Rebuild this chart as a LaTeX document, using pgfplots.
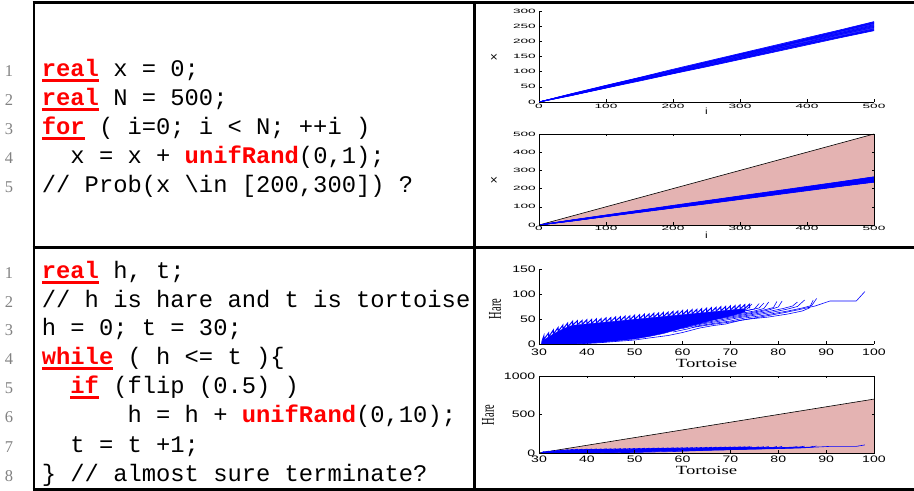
\documentclass[border=0pt]{standalone}
\usepackage{pgfplots}
\pgfplotsset{compat=1.18}
\usepackage{pgfplotstable}
\usepackage{fontspec}
\setmainfont{Liberation Serif}
\setsansfont{Liberation Sans}
\newfontfamily\codefont{Liberation Mono}
\newfontfamily\smallsans[FakeStretch=2.2]{Liberation Sans}
\newfontfamily\midsans[FakeStretch=1.5]{Liberation Sans}
\newfontfamily\labserif[FakeStretch=1.5]{Liberation Serif}
\newfontfamily\hareserif[FakeStretch=0.58]{Liberation Serif}
\newfontfamily\labsans[FakeStretch=1.3]{Liberation Sans}
\definecolor{kred}{RGB}{255,0,0}
\definecolor{fillpink}{RGB}{228,179,178}
\definecolor{lngray}{RGB}{130,130,130}
\definecolor{pblue}{RGB}{0,0,255}
\newcommand\kw[1]{{\color{kred}\bfseries\setbox0\hbox{#1}\rlap{\rule[-4.6bp]{\wd0}{2.6bp}}\box0}}
\newcommand\fn[1]{{\color{kred}\bfseries #1}}

\pgfplotstableread{
i L1 L2 L3 L4 L5 L6 L7 L8 L9 L10 L11 L12
0 0 0 0 0 0 0 0 0 0 0 0 0
50 28 22 27 23 26 24 27 23 25 26 28 22
100 55 46 52 47 53 49 51 46 51 49 54 48
150 81 69 79 73 77 72 78 72 74 75 80 71
200 108 93 103 96 104 98 105 95 100 98 104 94
250 134 116 130 120 131 124 129 118 127 124 131 120
300 160 140 156 146 154 147 157 142 151 150 158 143
350 186 164 180 169 178 173 183 169 177 174 182 166
400 212 188 207 193 205 196 206 191 203 198 209 192
450 238 212 233 217 229 222 234 215 226 225 236 214
500 265 235 259 241 255 246 261 238 252 249 263 237
}\walktab

\newcommand\walkplots[1]{%
  \addplot[fill=#1, draw=none] coordinates {(0,0) (50,28) (100,55) (150,81) (200,108) (250,134) (300,160) (350,186) (400,212) (450,238) (500,265) (500,235) (450,212) (400,188) (350,164) (300,140) (250,116) (200,93) (150,69) (100,46) (50,22) (0,0)};
  \pgfplotsinvokeforeach{1,...,12}{\addplot[pblue, line width=0.6bp] table[x=i,y=L##1]{\walktab};}
}

\newcommand\hareplots{%
  \addplot[fill=pblue, draw=pblue, line width=0.4bp] coordinates {(30.5,0) (30.6,5) (31,8) (32,14) (33,20) (34,25) (35,30) (36,34) (37,37.3) (38,38.2) (40,40.1) (42,41.9) (44,43.8) (46,45.6) (48,47.5) (50,49.4) (52,51.2) (54,53.1) (56,54.9) (58,56.8) (60,58.7) (62,60.5) (64,62.4) (66,64.2) (68,66.1) (70,68) (72,69.8) (73,70.7) (73,64) (70,56) (66,47) (62,37) (59,29) (56,21) (53,15) (50,10) (46,6) (42,2.5) (38,0.5) (34,0) (30.5,0)};
  \addplot[pblue, line width=1bp] coordinates {(30.6,5) (31,16) (31,9) (32,22) (32,14) (33,28) (33,20) (34,33) (34,25) (35,38) (35,30) (36,42) (36,34) (37,45.3) (37,37.3) (38,46.5) (38,38.2) (39,47.1) (39,39.1) (40,48.4) (40,40.1) (41,49.0) (41,41.0) (42,50.2) (42,41.9) (43,50.9) (43,42.9) (44,52.1) (44,43.8) (45,52.7) (45,44.7) (46,53.9) (46,45.6) (47,54.6) (47,46.6) (48,55.8) (48,47.5) (49,56.4) (49,48.4) (50,57.7) (50,49.4) (51,58.3) (51,50.3) (52,59.5) (52,51.2) (53,60.1) (53,52.1) (54,61.4) (54,53.1) (55,62.0) (55,54.0) (56,63.2) (56,54.9) (57,63.9) (57,55.9) (58,65.1) (58,56.8) (59,65.7) (59,57.7) (60,67.0) (60,58.7) (61,67.6) (61,59.6) (62,68.8) (62,60.5) (63,69.4) (63,61.4) (64,70.7) (64,62.4) (65,71.3) (65,63.3) (66,72.5) (66,64.2) (67,73.2) (67,65.2) (68,74.4) (68,66.1) (69,75.0) (69,67.0) (70,76.3) (70,68.0) (71,76.9) (71,68.9) (72,78.1) (72,69.8) (73,78.7) (73,70.7) (74,79.7) (74,71)};
  \addplot[pblue, line width=0.6bp] coordinates {(30.5,0) (38,0.5) (42,2) (46,5) (50,8) (53,12) (57,17) (60,23) (63.6,32) (66.5,37) (69,40) (72.4,48) (75,52) (78,57) (81.4,63) (84,68) (87.7,76) (90.8,86) (96.3,86) (98.1,105)};
  \addplot[pblue, line width=0.6bp] coordinates {(58,24) (61,30) (63.6,37) (67,42) (70,46) (73,52) (76,56) (79,61) (82,66) (85,72) (87,77) (88,91)};
  \addplot[pblue, line width=0.6bp] coordinates {(62,33) (66,39) (70,44) (74,50) (78,54) (82,60) (85,66) (86.5,72) (87.3,88)};
  \addplot[pblue, line width=0.6bp] coordinates {(60,31) (64,40) (68,46) (72,53) (76,59) (79,64) (82,70) (84,75) (85.5,88)};
  \addplot[pblue, line width=0.6bp] coordinates {(62,38) (66,45) (70,52) (74,58) (78,65) (81,71) (83,76) (84,84)};
  \addplot[pblue, line width=0.6bp] coordinates {(64,44) (68,51) (72,57) (75,62) (78,68) (80,74) (80.8,86)};
  \addplot[pblue, line width=0.6bp] coordinates {(66,49) (70,56) (74,62) (77,68) (79,73) (79.7,85)};
  \addplot[pblue, line width=0.6bp] coordinates {(68,55) (72,61) (75,66) (77,71) (78,84)};
  \addplot[pblue, line width=0.6bp] coordinates {(70,60) (73,66) (75,70) (76,81)};
  \addplot[pblue, line width=0.6bp] coordinates {(71,64) (73.5,70) (74.5,80)};
  \addplot[pblue, line width=0.6bp] coordinates {(65,52) (69,58) (72,64) (74,68) (76,72) (77,82)};
}

\pgfplotsset{mystyle/.style={scale only axis, anchor=south west, width=335bp,
  tick align=inside, no markers,
  axis line style={line width=0.6bp},
  every tick/.style={black, line width=0.5bp},
  major tick length=2.5bp,
  /pgf/number format/assume math mode=true,
  /pgf/number format/1000 sep={},
  xticklabel style={inner sep=0pt},
  yticklabel style={inner sep=0pt},
}}

\tikzset{code/.style={anchor=base west, inner sep=0pt, font=\codefont\fontsize{23.8bp}{29bp}\selectfont},
  lnum/.style={anchor=base, inner sep=0pt, text=lngray, font=\fontsize{16.5bp}{18bp}\selectfont}}

\begin{document}
\begin{tikzpicture}
\useasboundingbox (0,0) rectangle (914bp,491bp);
\fill[white] (0,0) rectangle (914bp,491bp);
% table rules
\draw[line width=2.5bp] (32.5bp,488.5bp) -- (914bp,488.5bp);
\draw[line width=2.5bp] (32.5bp,243.3bp) -- (914bp,243.3bp);
\draw[line width=2.5bp] (32.5bp,1.3bp) -- (914bp,1.3bp);
\draw[line width=2.5bp] (33.8bp,0bp) -- (33.8bp,489.8bp);
\draw[line width=2.5bp] (474.3bp,0bp) -- (474.3bp,489.8bp);

% code, top
\node[lnum] at (9bp,414bp) {1};
\node[lnum] at (9bp,385bp) {2};
\node[lnum] at (9bp,356bp) {3};
\node[lnum] at (9bp,327bp) {4};
\node[lnum] at (9bp,298bp) {5};
\node[code] at (41.7bp,414bp) {\kw{real} x = 0;};
\node[code] at (41.7bp,385bp) {\kw{real} N = 500;};
\node[code] at (41.7bp,356bp) {\kw{for} ( i=0; i < N; ++i )};
\node[code] at (41.7bp,327bp) {\hphantom{xx}x = x + \fn{unifRand}(0,1);};
\node[code] at (41.7bp,298bp) {// Prob(x \textbackslash in [200,300]) ?};

% code, bottom
\node[lnum] at (9bp,212bp) {1};
\node[lnum] at (9bp,183.5bp) {2};
\node[lnum] at (9bp,155bp) {3};
\node[lnum] at (9bp,126bp) {4};
\node[lnum] at (9bp,97bp) {5};
\node[lnum] at (9bp,68bp) {6};
\node[lnum] at (9bp,39bp) {7};
\node[lnum] at (9bp,9.5bp) {8};
\node[code] at (41.7bp,212bp) {\kw{real} h, t;};
\node[code] at (41.7bp,183.5bp) {// h is hare and t is tortoise};
\node[code] at (41.7bp,155bp) {h = 0; t = 30;};
\node[code] at (41.7bp,126bp) {\kw{while} ( h <= t )\{};
\node[code] at (41.7bp,97bp) {\hphantom{xx}\kw{if} (flip (0.5) )};
\node[code] at (41.7bp,68bp) {\hphantom{xxxxxx}h = h + \fn{unifRand}(0,10);};
\node[code] at (41.7bp,39bp) {\hphantom{xx}t = t +1;};
\node[code] at (41.7bp,9.5bp) {\} // almost sure terminate?};

% plot 1
\begin{axis}[mystyle, at={(539bp,389bp)}, height=91bp,
  xmin=0, xmax=500, ymin=0, ymax=300,
  xtick={0,100,...,500}, ytick={0,50,...,300},
  axis x line*=bottom, axis y line*=left,
  tick label style={font=\smallsans\fontsize{6.2bp}{6.2bp}\selectfont},
  xticklabel style={yshift=-2bp}, yticklabel style={xshift=-3bp}]
  \walkplots{pblue!80!white}
\end{axis}
\node[rotate=90, inner sep=0pt, font=\labsans\fontsize{10bp}{10bp}\selectfont] at (494bp,434bp) {x};
\node[inner sep=0pt, font=\labsans\fontsize{9bp}{9bp}\selectfont] at (706.5bp,380bp) {i};

% plot 2
\begin{axis}[mystyle, at={(539bp,266bp)}, height=91bp,
  xmin=0, xmax=500, ymin=0, ymax=500,
  xtick={0,100,...,500}, ytick={0,100,...,500},
  tick pos=both, axis on top,
  tick label style={font=\smallsans\fontsize{6.2bp}{6.2bp}\selectfont},
  xticklabel style={yshift=-1bp}, yticklabel style={xshift=-3bp}]
  \addplot[fill=fillpink, draw=none] coordinates {(0,0) (500,500) (500,0) (0,0)};
  \addplot[black, line width=0.6bp] coordinates {(0,0) (500,500)};
  \walkplots{pblue}
\end{axis}
\node[rotate=90, inner sep=0pt, font=\labsans\fontsize{10bp}{10bp}\selectfont] at (494bp,311bp) {x};
\node[inner sep=0pt, font=\labsans\fontsize{9bp}{9bp}\selectfont] at (706.5bp,256bp) {i};

% plot 3
\begin{axis}[mystyle, at={(539bp,147bp)}, height=75bp,
  xmin=30, xmax=100, ymin=0, ymax=150,
  xtick={30,40,...,100}, ytick={0,50,100,150},
  axis x line*=bottom, axis y line*=left,
  tick label style={font=\midsans\fontsize{9.4bp}{9.4bp}\selectfont},
  xticklabel style={yshift=-4.5bp}, yticklabel style={xshift=-3bp}]
  \hareplots
\end{axis}
\node[rotate=90, inner sep=0pt, font=\hareserif\fontsize{18bp}{18bp}\selectfont] at (495bp,182bp) {Hare};
\node[inner sep=0pt, font=\labserif\fontsize{12.5bp}{12.5bp}\selectfont] at (706.5bp,127.5bp) {Tortoise};

% plot 4
\begin{axis}[mystyle, at={(539bp,38bp)}, height=77bp,
  xmin=30, xmax=100, ymin=0, ymax=1000,
  xtick={30,40,...,100}, ytick={0,500,1000},
  tick pos=both, axis on top,
  tick label style={font=\midsans\fontsize{9.4bp}{9.4bp}\selectfont},
  xticklabel style={yshift=-3bp}, yticklabel style={xshift=-3.5bp}]
  \addplot[fill=fillpink, draw=none] coordinates {(30,0) (100,700) (100,0) (30,0)};
  \addplot[black, line width=0.6bp] coordinates {(30,0) (100,700)};
  \hareplots
\end{axis}
\node[rotate=90, inner sep=0pt, font=\hareserif\fontsize{18bp}{18bp}\selectfont] at (488bp,76bp) {Hare};
\node[inner sep=0pt, font=\labserif\fontsize{12.5bp}{12.5bp}\selectfont] at (706.5bp,20.5bp) {Tortoise};
\end{tikzpicture}
\end{document}
